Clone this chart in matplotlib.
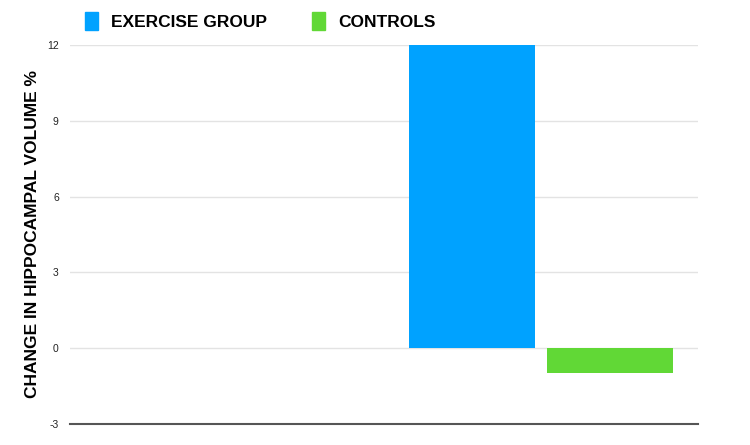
import numpy as np
import matplotlib.pyplot as plt
from matplotlib.patches import Patch

# Data (first slot is empty in the original)
categories = ['', '']
exercise_group = [np.nan, 12]
controls = [np.nan, -1]
series_names = ['EXERCISE GROUP', 'CONTROLS']
y_ticks = [-3, 0, 3, 6, 9, 12]

blue = '#00a2ff'
green = '#61d836'

plt.rcParams['font.family'] = ['Liberation Sans', 'DejaVu Sans']
plt.rcParams['axes.unicode_minus'] = False

fig = plt.figure(figsize=(7.5, 4.45), dpi=100)
ax = fig.add_axes([0.0933, 0.0472, 0.8374, 0.8517])

x = np.arange(len(categories))
width = 0.4
offset = 0.22
ax.bar(x - offset, exercise_group, width, color=blue, zorder=3)
ax.bar(x + offset, controls, width, color=green, zorder=3)

ax.set_xlim(-0.5, len(categories) - 0.5)
ax.set_ylim(-3, 12)
ax.set_yticks(y_ticks)
ax.set_xticks([])
ax.tick_params(axis='y', length=0, labelsize=7.5, colors='#222222', pad=8)
ax.grid(axis='y', color='#e3e3e3', linewidth=1, zorder=0)

for s in ['top', 'right', 'left']:
    ax.spines[s].set_visible(False)
ax.spines['bottom'].set_color('#555555')
ax.spines['bottom'].set_linewidth(1.5)

ax.set_ylabel('CHANGE IN HIPPOCAMPAL VOLUME %', fontsize=12.5,
              fontweight='bold', labelpad=5)

handles = [Patch(color=blue), Patch(color=green)]
fig.legend(handles, series_names, loc='upper center', ncol=2,
           bbox_to_anchor=(0.347, 1.008), frameon=False,
           prop={'size': 12.5, 'weight': 'bold'},
           handlelength=0.75, handleheight=1.25, handletextpad=0.75,
           columnspacing=2.6)

fig.savefig('out.png', dpi=100)
